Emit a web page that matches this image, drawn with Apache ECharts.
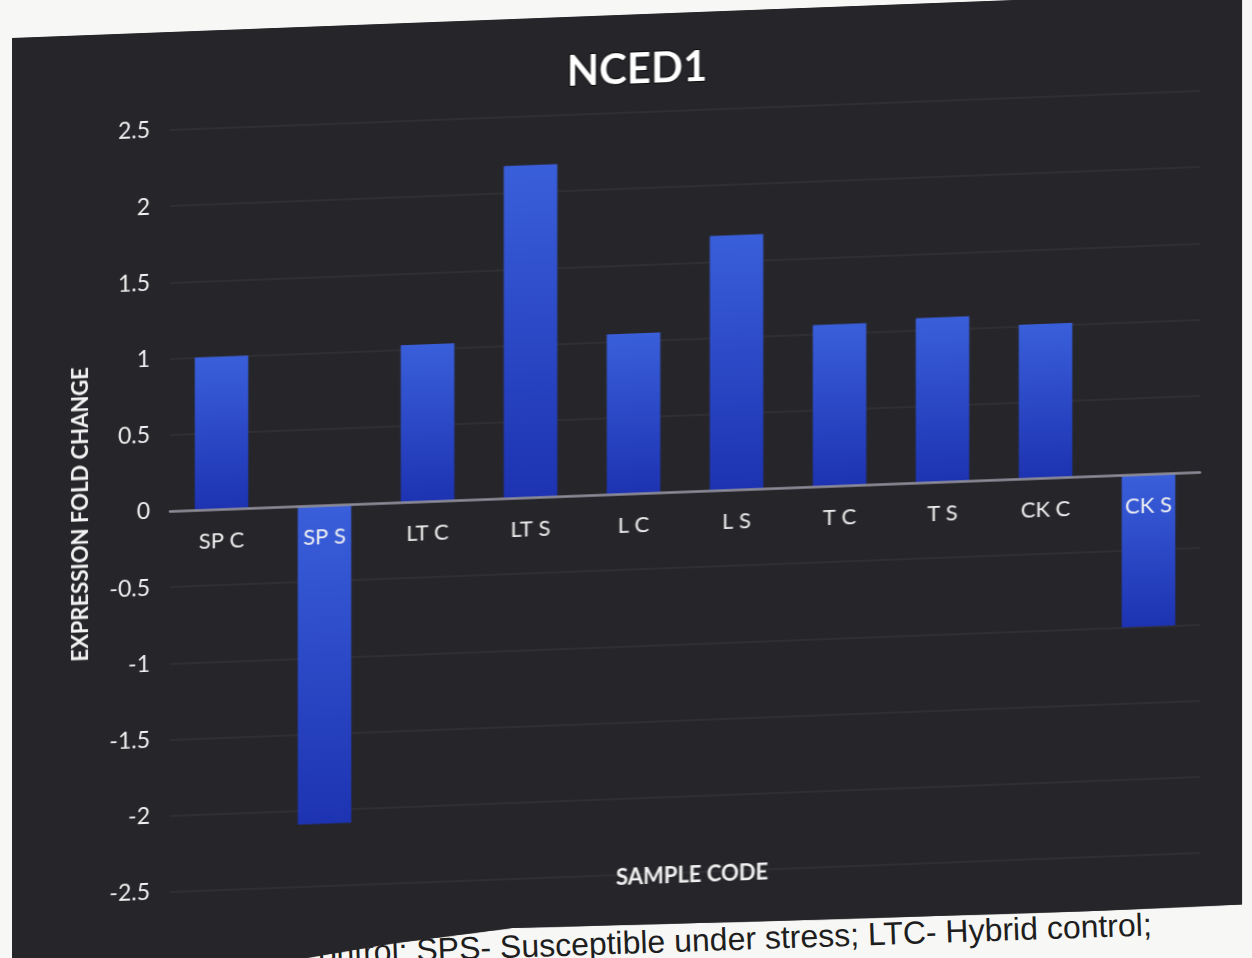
<!DOCTYPE html>
<html>
<head>
<meta charset="utf-8">
<script src="https://cdn.jsdelivr.net/npm/echarts@6/dist/echarts.min.js"></script>
<style>
  html, body { margin: 0; padding: 0; width: 1252px; height: 958px; overflow: hidden; background: #f7f7f5; }
  #caption {
    position: absolute; left: 302px; top: 936px; white-space: nowrap;
    font-family: "Liberation Sans", Arial, sans-serif; font-size: 32px; color: #1e1e1e;
    transform: rotate(-2deg); transform-origin: 0 0; z-index: 0;
  }
  #chart {
    position: absolute; left: 12px; top: 38px; width: 1230px; height: 940px;
    background: #262529; transform: skewY(-2.17deg); transform-origin: 0 0; z-index: 1;
    clip-path: polygon(0 0, 100% 0, 1230px 913px, 1081px 914px, 776px 912px, 500px 909px, 380px 920px, 288px 932px, 0 936px);
  }
</style>
</head>
<body>
<div id="caption">control; SPS- Susceptible under stress; LTC- Hybrid control;</div>
<div id="chart"></div>
<script>
const categories = ['SP C', 'SP S', 'LT C', 'LT S', 'L C', 'L S', 'T C', 'T S', 'CK C', 'CK S'];
const foldChange = [1.0, -2.09, 1.03, 2.18, 1.05, 1.67, 1.06, 1.08, 1.01, -1.0];
const yTicks = { min: -2.5, max: 2.5, step: 0.5 };
const titleText = 'NCED1';
const yAxisTitle = 'EXPRESSION FOLD CHANGE';
const xAxisTitle = 'SAMPLE CODE';

const FONT = 'Lato, "Open Sans", sans-serif';
const GRID = { left: 158, top: 98, width: 1030, height: 762 };
const chart = echarts.init(document.getElementById('chart'), null, { renderer: 'canvas' });

function barGradient() {
  return new echarts.graphic.LinearGradient(0, 0, 0, 1, [
    { offset: 0, color: '#3a5fdb' },
    { offset: 1, color: '#1d33b2' }
  ]);
}

// distance from grid bottom to the zero line (through the value scale)
const zeroOffset = GRID.height * (0 - yTicks.min) / (yTicks.max - yTicks.min);

chart.setOption({
  backgroundColor: '#262529',
  animation: false,
  title: {
    text: titleText,
    left: 620, top: 29,
    textAlign: 'center',
    textStyle: {
      color: '#ffffff', fontFamily: FONT, fontWeight: 'bold', fontSize: 42,
      textBorderColor: '#0b0b0d', textBorderWidth: 2
    }
  },
  grid: Object.assign({ containLabel: false }, GRID),
  xAxis: {
    type: 'category',
    data: categories,
    offset: -zeroOffset,
    axisLine: { onZero: false, lineStyle: { color: '#8d8c98', width: 2.5 } },
    axisTick: { show: false },
    axisLabel: { color: '#f2f2f2', fontFamily: FONT, fontSize: 22, margin: 21, interval: 0 },
    splitLine: { show: false },
    z: 5
  },
  yAxis: {
    type: 'value',
    min: yTicks.min, max: yTicks.max, interval: yTicks.step,
    name: yAxisTitle,
    nameLocation: 'middle',
    nameGap: 78,
    nameTextStyle: { color: '#f2f2f2', fontFamily: FONT, fontWeight: 'bold', fontSize: 22 },
    axisLine: { show: false },
    axisTick: { show: false },
    axisLabel: { color: '#f2f2f2', fontFamily: FONT, fontSize: 23, margin: 20 },
    splitLine: { lineStyle: { color: 'rgba(255,255,255,0.06)', width: 1.5 } }
  },
  graphic: [{
    type: 'text',
    left: 604, top: 852,
    style: { text: xAxisTitle, fill: '#f2f2f2', font: 'bold 22px ' + FONT }
  }],
  series: [{
    type: 'bar',
    data: foldChange.map(v => ({ value: v, itemStyle: { color: barGradient() } })),
    barWidth: '52%',
    z: 1
  }]
});
</script>
</body>
</html>
